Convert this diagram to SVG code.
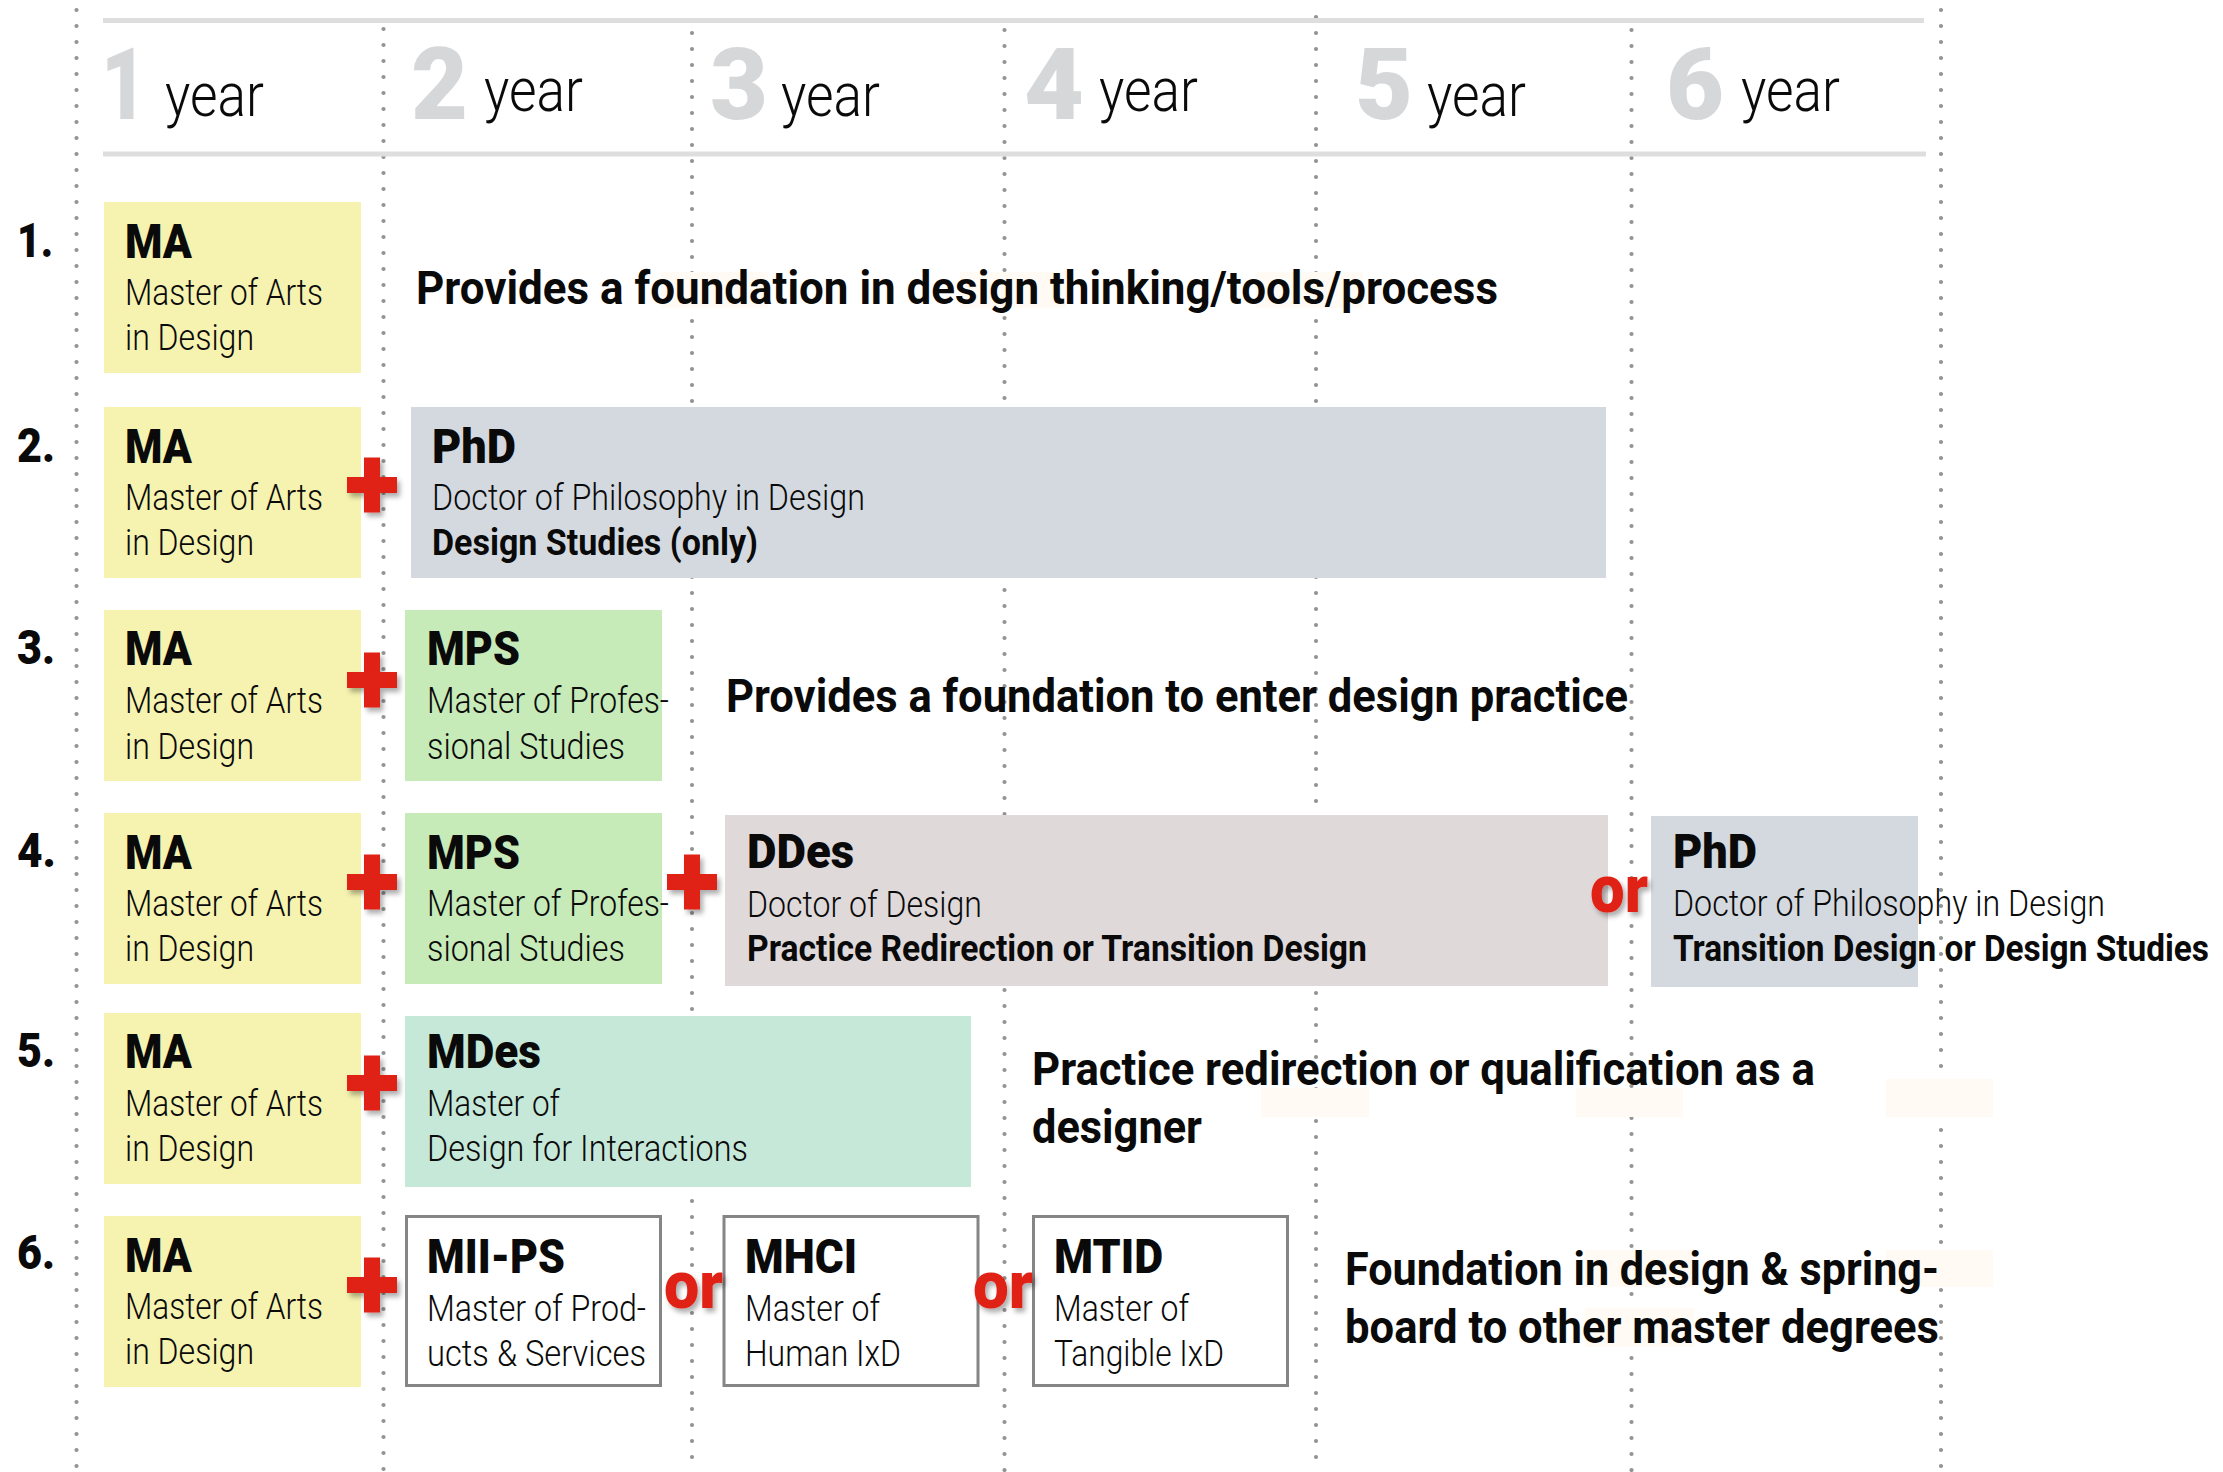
<svg xmlns="http://www.w3.org/2000/svg" xmlns:xlink="http://www.w3.org/1999/xlink" width="2223" height="1472" viewBox="0 0 2223 1472">
  <style>
    text { font-family: Roboto, "Liberation Sans", "DejaVu Sans", sans-serif; fill: #0a0a0a; }
    .ttl { font-weight: 900; font-size: 48px; }
    .dsc { font-weight: 300; font-size: 37px; }
    .sub { font-weight: 700; font-size: 37px; }
    .sent { font-weight: 700; font-size: 47px; }
    .num { font-weight: 900; font-size: 49px; }
    .dig { font-weight: 900; font-size: 101px; fill: #d6d7d9; }
    .yr { font-weight: 300; font-size: 62px; }
    .or { font-weight: 900; font-size: 66px; fill: #e02214; filter: url(#shadow); }
    .grid { fill: none; stroke: #939393; stroke-width: 4.2; stroke-dasharray: 0 16; stroke-linecap: round; }
    .rule { stroke: #dedede; stroke-width: 5; }
    .patch { fill: #fffaf3; }
    .ma { fill: #f6f3b0; }
    .phd { fill: #d3d9df; }
    .mps { fill: #c6ebb9; }
    .ddes { fill: #e0d9da; }
    .mdes { fill: #c5e8d8; }
    .out { fill: #ffffff; stroke: #858585; stroke-width: 3; }
    .plus { fill: #e02214; filter: url(#shadow); }
  </style>
  <defs>
    <filter id="shadow" x="-30%" y="-30%" width="170%" height="170%">
      <feDropShadow dx="3" dy="4" stdDeviation="2.5" flood-color="#000" flood-opacity="0.32"/>
    </filter>
    <!-- red cross centred on the origin -->
    <path id="cross" d="M-8,-27.5 H8 V-8 H25 V8 H8 V27.5 H-8 V8 H-25 V-8 H-8 Z"/>
  </defs>

  <rect width="2223" height="1472" fill="#ffffff"/>

  <!-- year grid: dotted column lines and header rules -->
  <g id="grid">
    <line class="grid" x1="76.5" y1="10" x2="76.5" y2="1472"/>
    <line class="grid" x1="383.5" y1="29" x2="383.5" y2="1472"/>
    <line class="grid" x1="692" y1="33" x2="692" y2="1472"/>
    <line class="grid" x1="1004.5" y1="30" x2="1004.5" y2="1472"/>
    <line class="grid" x1="1316" y1="17" x2="1316" y2="1472"/>
    <line class="grid" x1="1631.5" y1="30" x2="1631.5" y2="1472"/>
    <line class="grid" x1="1941" y1="10" x2="1941" y2="1472"/>
    <line class="rule" x1="103" y1="20.5" x2="1924" y2="20.5"/>
    <line class="rule" x1="103" y1="154" x2="1926" y2="154"/>
  </g>

  <!-- light patches behind some of the captions -->
  <g id="patches">
    <rect class="patch" x="661" y="272" width="107" height="36"/>
    <rect class="patch" x="960" y="272" width="106" height="36"/>
    <rect class="patch" x="1256" y="272" width="107" height="36"/>
    <rect class="patch" x="1261" y="1088" width="108" height="29"/>
    <rect class="patch" x="1576" y="1088" width="107" height="29"/>
    <rect class="patch" x="1886" y="1079" width="107" height="38"/>
    <rect class="patch" x="1585" y="1250" width="109" height="37"/>
    <rect class="patch" x="1886" y="1250" width="107" height="37"/>
    <rect class="patch" x="1585" y="1308" width="109" height="39"/>
  </g>

  <!-- year header -->
  <g id="years">
    <text class="dig" x="101" y="119" textLength="46" lengthAdjust="spacingAndGlyphs">1</text>
    <text class="yr" x="165" y="116" textLength="99" lengthAdjust="spacingAndGlyphs">year</text>
    <text class="dig" x="411" y="119" textLength="57" lengthAdjust="spacingAndGlyphs">2</text>
    <text class="yr" x="484" y="111" textLength="99" lengthAdjust="spacingAndGlyphs">year</text>
    <text class="dig" x="710" y="119" textLength="58" lengthAdjust="spacingAndGlyphs">3</text>
    <text class="yr" x="781" y="116" textLength="99" lengthAdjust="spacingAndGlyphs">year</text>
    <text class="dig" x="1024" y="119" textLength="60" lengthAdjust="spacingAndGlyphs">4</text>
    <text class="yr" x="1099" y="111" textLength="99" lengthAdjust="spacingAndGlyphs">year</text>
    <text class="dig" x="1355" y="119" textLength="58" lengthAdjust="spacingAndGlyphs">5</text>
    <text class="yr" x="1427" y="116" textLength="99" lengthAdjust="spacingAndGlyphs">year</text>
    <text class="dig" x="1666" y="119" textLength="58" lengthAdjust="spacingAndGlyphs">6</text>
    <text class="yr" x="1741" y="111" textLength="99" lengthAdjust="spacingAndGlyphs">year</text>
  </g>

  <!-- row numbers -->
  <g id="row-numbers">
    <text class="num" x="17" y="257" textLength="36" lengthAdjust="spacingAndGlyphs">1.</text>
    <text class="num" x="17" y="462" textLength="38" lengthAdjust="spacingAndGlyphs">2.</text>
    <text class="num" x="17" y="664" textLength="38" lengthAdjust="spacingAndGlyphs">3.</text>
    <text class="num" x="17" y="867" textLength="39" lengthAdjust="spacingAndGlyphs">4.</text>
    <text class="num" x="17" y="1067" textLength="38" lengthAdjust="spacingAndGlyphs">5.</text>
    <text class="num" x="17" y="1269" textLength="38" lengthAdjust="spacingAndGlyphs">6.</text>
  </g>

  <!-- Row 1 -->
  <g id="row1-ma">
    <rect class="ma" x="104" y="202" width="257" height="171"/>
    <text class="ttl" x="125" y="258" textLength="67" lengthAdjust="spacingAndGlyphs">MA</text>
    <text class="dsc" x="125" y="305" textLength="198" lengthAdjust="spacingAndGlyphs">Master of Arts</text>
    <text class="dsc" x="125" y="350" textLength="129" lengthAdjust="spacingAndGlyphs">in Design</text>
  </g>
  <g id="row1-note">
    <text class="sent" x="416" y="304" textLength="1082" lengthAdjust="spacingAndGlyphs">Provides a foundation in design thinking/tools/process</text>
  </g>

  <!-- Row 2 -->
  <g id="row2-ma">
    <rect class="ma" x="104" y="407" width="257" height="171"/>
    <text class="ttl" x="125" y="463" textLength="67" lengthAdjust="spacingAndGlyphs">MA</text>
    <text class="dsc" x="125" y="510" textLength="198" lengthAdjust="spacingAndGlyphs">Master of Arts</text>
    <text class="dsc" x="125" y="555" textLength="129" lengthAdjust="spacingAndGlyphs">in Design</text>
  </g>
  <g id="row2-phd">
    <rect class="phd" x="411" y="407" width="1195" height="171"/>
    <text class="ttl" x="432" y="463" textLength="84" lengthAdjust="spacingAndGlyphs">PhD</text>
    <text class="dsc" x="432" y="510" textLength="433" lengthAdjust="spacingAndGlyphs">Doctor of Philosophy in Design</text>
    <text class="sub" x="432" y="555" textLength="326" lengthAdjust="spacingAndGlyphs">Design Studies (only)</text>
  </g>

  <!-- Row 3 -->
  <g id="row3-ma">
    <rect class="ma" x="104" y="610" width="257" height="171"/>
    <text class="ttl" x="125" y="665" textLength="67" lengthAdjust="spacingAndGlyphs">MA</text>
    <text class="dsc" x="125" y="713" textLength="198" lengthAdjust="spacingAndGlyphs">Master of Arts</text>
    <text class="dsc" x="125" y="759" textLength="129" lengthAdjust="spacingAndGlyphs">in Design</text>
  </g>
  <g id="row3-mps">
    <rect class="mps" x="405" y="610" width="257" height="171"/>
    <text class="ttl" x="427" y="665" textLength="93" lengthAdjust="spacingAndGlyphs">MPS</text>
    <text class="dsc" x="427" y="713" textLength="242" lengthAdjust="spacingAndGlyphs">Master of Profes-</text>
    <text class="dsc" x="427" y="759" textLength="198" lengthAdjust="spacingAndGlyphs">sional Studies</text>
  </g>
  <g id="row3-note">
    <text class="sent" x="726" y="712" textLength="902" lengthAdjust="spacingAndGlyphs">Provides a foundation to enter design practice</text>
  </g>

  <!-- Row 4 -->
  <g id="row4-ma">
    <rect class="ma" x="104" y="813" width="257" height="171"/>
    <text class="ttl" x="125" y="869" textLength="67" lengthAdjust="spacingAndGlyphs">MA</text>
    <text class="dsc" x="125" y="916" textLength="198" lengthAdjust="spacingAndGlyphs">Master of Arts</text>
    <text class="dsc" x="125" y="961" textLength="129" lengthAdjust="spacingAndGlyphs">in Design</text>
  </g>
  <g id="row4-mps">
    <rect class="mps" x="405" y="813" width="257" height="171"/>
    <text class="ttl" x="427" y="869" textLength="93" lengthAdjust="spacingAndGlyphs">MPS</text>
    <text class="dsc" x="427" y="916" textLength="242" lengthAdjust="spacingAndGlyphs">Master of Profes-</text>
    <text class="dsc" x="427" y="961" textLength="198" lengthAdjust="spacingAndGlyphs">sional Studies</text>
  </g>
  <g id="row4-ddes">
    <rect class="ddes" x="725" y="815" width="883" height="171"/>
    <text class="ttl" x="747" y="868" textLength="107" lengthAdjust="spacingAndGlyphs">DDes</text>
    <text class="dsc" x="747" y="917" textLength="235" lengthAdjust="spacingAndGlyphs">Doctor of Design</text>
    <text class="sub" x="747" y="961" textLength="620" lengthAdjust="spacingAndGlyphs">Practice Redirection or Transition Design</text>
  </g>
  <g id="row4-phd">
    <rect class="phd" x="1651" y="816" width="267" height="171"/>
    <text class="ttl" x="1673" y="868" textLength="84" lengthAdjust="spacingAndGlyphs">PhD</text>
    <text class="dsc" x="1673" y="916" textLength="432" lengthAdjust="spacingAndGlyphs">Doctor of Philosophy in Design</text>
    <text class="sub" x="1673" y="961" textLength="536" lengthAdjust="spacingAndGlyphs">Transition Design or Design Studies</text>
  </g>

  <!-- Row 5 -->
  <g id="row5-ma">
    <rect class="ma" x="104" y="1013" width="257" height="171"/>
    <text class="ttl" x="125" y="1068" textLength="67" lengthAdjust="spacingAndGlyphs">MA</text>
    <text class="dsc" x="125" y="1116" textLength="198" lengthAdjust="spacingAndGlyphs">Master of Arts</text>
    <text class="dsc" x="125" y="1161" textLength="129" lengthAdjust="spacingAndGlyphs">in Design</text>
  </g>
  <g id="row5-mdes">
    <rect class="mdes" x="405" y="1016" width="566" height="171"/>
    <text class="ttl" x="427" y="1068" textLength="114" lengthAdjust="spacingAndGlyphs">MDes</text>
    <text class="dsc" x="427" y="1116" textLength="133" lengthAdjust="spacingAndGlyphs">Master of</text>
    <text class="dsc" x="427" y="1161" textLength="321" lengthAdjust="spacingAndGlyphs">Design for Interactions</text>
  </g>
  <g id="row5-note">
    <text class="sent" x="1032" y="1085" textLength="783" lengthAdjust="spacingAndGlyphs">Practice redirection or qualification as a</text>
    <text class="sent" x="1032" y="1143" textLength="170" lengthAdjust="spacingAndGlyphs">designer</text>
  </g>

  <!-- Row 6 -->
  <g id="row6-ma">
    <rect class="ma" x="104" y="1216" width="257" height="171"/>
    <text class="ttl" x="125" y="1272" textLength="67" lengthAdjust="spacingAndGlyphs">MA</text>
    <text class="dsc" x="125" y="1319" textLength="198" lengthAdjust="spacingAndGlyphs">Master of Arts</text>
    <text class="dsc" x="125" y="1364" textLength="129" lengthAdjust="spacingAndGlyphs">in Design</text>
  </g>
  <g id="row6-miips">
    <rect class="out" x="406.5" y="1216.5" width="254" height="169"/>
    <text class="ttl" x="427" y="1273" textLength="138" lengthAdjust="spacingAndGlyphs">MII-PS</text>
    <text class="dsc" x="427" y="1321" textLength="219" lengthAdjust="spacingAndGlyphs">Master of Prod-</text>
    <text class="dsc" x="427" y="1366" textLength="219" lengthAdjust="spacingAndGlyphs">ucts &amp; Services</text>
  </g>
  <g id="row6-mhci">
    <rect class="out" x="724" y="1216.5" width="254" height="169"/>
    <text class="ttl" x="745" y="1273" textLength="112" lengthAdjust="spacingAndGlyphs">MHCI</text>
    <text class="dsc" x="745" y="1321" textLength="135" lengthAdjust="spacingAndGlyphs">Master of</text>
    <text class="dsc" x="745" y="1366" textLength="156" lengthAdjust="spacingAndGlyphs">Human IxD</text>
  </g>
  <g id="row6-mtid">
    <rect class="out" x="1033.5" y="1216.5" width="254" height="169"/>
    <text class="ttl" x="1054" y="1273" textLength="109" lengthAdjust="spacingAndGlyphs">MTID</text>
    <text class="dsc" x="1054" y="1321" textLength="135" lengthAdjust="spacingAndGlyphs">Master of</text>
    <text class="dsc" x="1054" y="1366" textLength="170" lengthAdjust="spacingAndGlyphs">Tangible IxD</text>
  </g>
  <g id="row6-note">
    <text class="sent" x="1345" y="1285" textLength="594" lengthAdjust="spacingAndGlyphs">Foundation in design &amp; spring-</text>
    <text class="sent" x="1345" y="1343" textLength="594" lengthAdjust="spacingAndGlyphs">board to other master degrees</text>
  </g>

  <!-- connectors: red "+" and "or" between programmes -->
  <g id="connectors">
    <use class="plus" xlink:href="#cross" href="#cross" x="372" y="485"/>
    <use class="plus" xlink:href="#cross" href="#cross" x="372" y="680"/>
    <use class="plus" xlink:href="#cross" href="#cross" x="372" y="882"/>
    <use class="plus" xlink:href="#cross" href="#cross" x="692" y="882"/>
    <use class="plus" xlink:href="#cross" href="#cross" x="372" y="1083"/>
    <use class="plus" xlink:href="#cross" href="#cross" x="372" y="1285"/>
    <text class="or" x="1590" y="912" textLength="58" lengthAdjust="spacingAndGlyphs">or</text>
    <text class="or" x="664" y="1308" textLength="59" lengthAdjust="spacingAndGlyphs">or</text>
    <text class="or" x="973" y="1308" textLength="60" lengthAdjust="spacingAndGlyphs">or</text>
  </g>
</svg>
